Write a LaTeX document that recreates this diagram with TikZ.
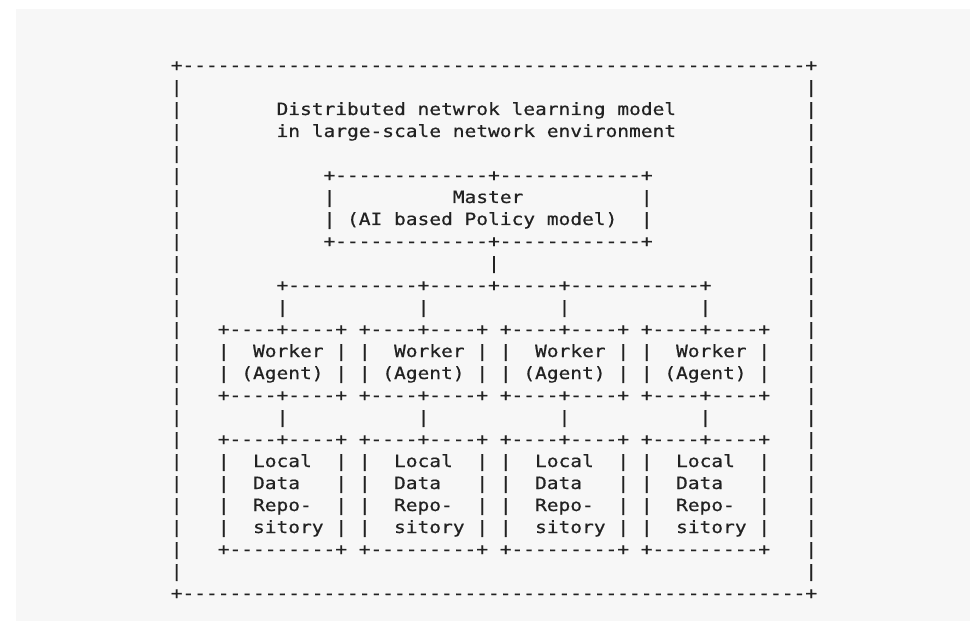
\documentclass[tikz,border=0pt]{standalone}
\usepackage{fontspec}
\usepackage{xcolor}
\newfontfamily\af{DejaVu Sans Mono}[FakeStretch=1.155,FakeBold=0.6]
\definecolor{ink}{HTML}{222222}
\definecolor{panel}{HTML}{F7F7F7}
\newcount\dcnt
\newcount\scnt
\newcommand\afont{\fontsize{16.9bp}{20bp}\af}
\newcommand\spc{\hphantom{x}}
\newcommand\SP[1]{\scnt=#1\relax\loop\ifnum\scnt>0 \hphantom{x}\advance\scnt-1\relax\repeat}
\newcommand\DD[1]{\dcnt=#1\relax\loop\ifnum\dcnt>0 -\kern0pt\advance\dcnt-1\relax\repeat}
\newcommand\BT{+\DD{4}+\DD{4}+}
\frenchspacing
\begin{document}
\begin{tikzpicture}[x=1bp,y=-1bp,
  asciiline/.style={anchor=base west, inner sep=0pt, outer sep=0pt, font=\afont, text=ink}]
\useasboundingbox (0,0) rectangle (975,621);
\fill[white] (0,0) rectangle (975,621);
\fill[panel] (16,9) rectangle (970,621);
\def\xo{170.8}
\node[asciiline] (r0) at (\xo,71) {+\DD{53}+};
\node[asciiline] (r1) at (\xo,93) {|\SP{53}|};
\node[asciiline] (r2) at (\xo,115) {|\SP{8}Distributed\spc netwrok\spc learning\spc model\SP{11}|};
\node[asciiline] (r3) at (\xo,137) {|\SP{8}in\spc large-scale\spc network\spc environment\SP{11}|};
\node[asciiline] (r4) at (\xo,159) {|\SP{53}|};
\node[asciiline] (r5) at (\xo,181) {|\SP{12}+\DD{13}+\DD{12}+\SP{13}|};
\node[asciiline] (r6) at (\xo,203) {|\SP{12}|\SP{10}Master\SP{10}|\SP{13}|};
\node[asciiline] (r7) at (\xo,225) {|\SP{12}|\spc(AI\spc based\spc Policy\spc model)\SP{2}|\SP{13}|};
\node[asciiline] (r8) at (\xo,247) {|\SP{12}+\DD{13}+\DD{12}+\SP{13}|};
\node[asciiline] (r9) at (\xo,269) {|\SP{26}|\SP{26}|};
\node[asciiline] (r10) at (\xo,291) {|\SP{8}+\DD{11}+\DD{5}+\DD{5}+\DD{11}+\SP{8}|};
\node[asciiline] (r11) at (\xo,313) {|\SP{8}|\SP{11}|\SP{11}|\SP{11}|\SP{8}|};
\node[asciiline] (r12) at (\xo,335) {|\SP{3}\BT\spc\BT\spc\BT\spc\BT\SP{3}|};
\node[asciiline] (r13) at (\xo,357) {|\SP{3}|\SP{2}Worker\spc|\spc|\SP{2}Worker\spc|\spc|\SP{2}Worker\spc|\spc|\SP{2}Worker\spc|\SP{3}|};
\node[asciiline] (r14) at (\xo,379) {|\SP{3}|\spc(Agent)\spc|\spc|\spc(Agent)\spc|\spc|\spc(Agent)\spc|\spc|\spc(Agent)\spc|\SP{3}|};
\node[asciiline] (r15) at (\xo,401) {|\SP{3}\BT\spc\BT\spc\BT\spc\BT\SP{3}|};
\node[asciiline] (r16) at (\xo,423) {|\SP{8}|\SP{11}|\SP{11}|\SP{11}|\SP{8}|};
\node[asciiline] (r17) at (\xo,445) {|\SP{3}\BT\spc\BT\spc\BT\spc\BT\SP{3}|};
\node[asciiline] (r18) at (\xo,467) {|\SP{3}|\SP{2}Local\SP{2}|\spc|\SP{2}Local\SP{2}|\spc|\SP{2}Local\SP{2}|\spc|\SP{2}Local\SP{2}|\SP{3}|};
\node[asciiline] (r19) at (\xo,489) {|\SP{3}|\SP{2}Data\SP{3}|\spc|\SP{2}Data\SP{3}|\spc|\SP{2}Data\SP{3}|\spc|\SP{2}Data\SP{3}|\SP{3}|};
\node[asciiline] (r20) at (\xo,511) {|\SP{3}|\SP{2}Repo-\SP{2}|\spc|\SP{2}Repo-\SP{2}|\spc|\SP{2}Repo-\SP{2}|\spc|\SP{2}Repo-\SP{2}|\SP{3}|};
\node[asciiline] (r21) at (\xo,533) {|\SP{3}|\SP{2}sitory\spc|\spc|\SP{2}sitory\spc|\spc|\SP{2}sitory\spc|\spc|\SP{2}sitory\spc|\SP{3}|};
\node[asciiline] (r22) at (\xo,555) {|\SP{3}+\DD{9}+\spc+\DD{9}+\spc+\DD{9}+\spc+\DD{9}+\SP{3}|};
\node[asciiline] (r23) at (\xo,577) {|\SP{53}|};
\node[asciiline] (r24) at (\xo,599) {+\DD{53}+};
\end{tikzpicture}
\end{document}
